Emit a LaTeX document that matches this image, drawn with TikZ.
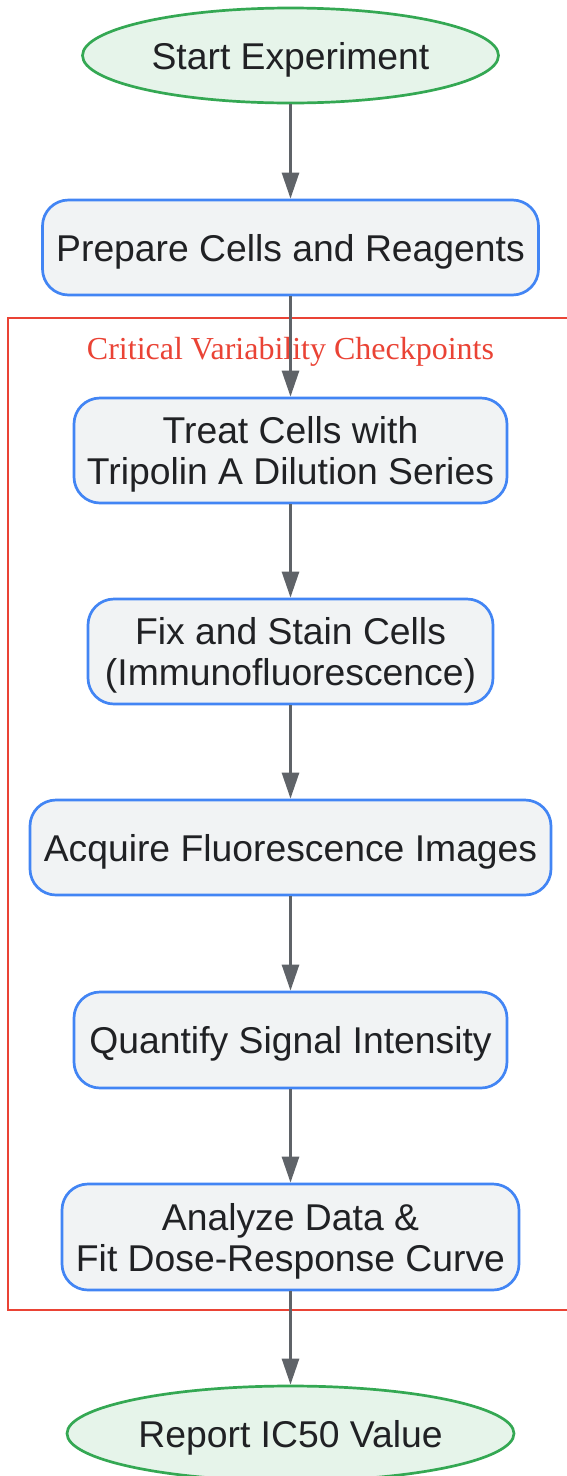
\documentclass[tikz,border=0pt]{standalone}
\usepackage{fontspec}
\setmainfont{Liberation Sans}
\newfontfamily\labelserif{Liberation Serif}
\usetikzlibrary{shapes.geometric,arrows.meta}
\definecolor{boxfill}{HTML}{F1F3F4}
\definecolor{boxline}{HTML}{4285F4}
\definecolor{endfill}{HTML}{E6F4EA}
\definecolor{endline}{HTML}{34A853}
\definecolor{arrowgray}{HTML}{5F6368}
\definecolor{txt}{HTML}{202124}
\definecolor{clusterred}{HTML}{EA4335}
\tikzset{
  stepbox/.style={draw=boxline, fill=boxfill, line width=2.7pt, rounded corners=26pt,
    inner sep=0pt, align=center, text=txt, text depth=-3pt, font=\fontsize{37.3}{41}\selectfont},
  endpoint/.style={ellipse, draw=endline, fill=endfill, line width=2.7pt, inner sep=0pt,
    text=txt, text depth=-2pt, font=\fontsize{37.3}{41}\selectfont},
  flow/.style={draw=arrowgray, line width=2.7pt, -{Triangle[length=26pt,width=17pt]}}
}
\begin{document}
\begin{tikzpicture}[x=1pt,y=-1pt]
\useasboundingbox (0,0) rectangle (567,1476);
\begin{scope}
\clip (0,0) rectangle (567,1476);
\fill[white] (0,0) rectangle (567,1476);
% cluster
\draw[clusterred, line width=2.6pt] (8,318) rectangle (600,1310);
\node[text=clusterred, font=\labelserif\fontsize{32}{38}\selectfont] (clabel) at (290.5,352) {Critical Variability Checkpoints};
% nodes
\node[endpoint, minimum width=416pt, minimum height=95pt] (start) at (290.5,55.5) {Start Experiment};
\node[stepbox, minimum width=496pt, minimum height=95pt] (prep) at (290.5,247.5) {Prepare Cells and Reagents};
\node[stepbox, minimum width=433pt, minimum height=105pt] (treat) at (290.5,450.5) {Treat Cells with\\Tripolin A Dilution Series};
\node[stepbox, minimum width=405pt, minimum height=105pt] (fix) at (290.5,651.5) {Fix and Stain Cells\\(Immunofluorescence)};
\node[stepbox, minimum width=521pt, minimum height=95pt] (acq) at (290.5,847.5) {Acquire Fluorescence Images};
\node[stepbox, minimum width=433pt, minimum height=96pt] (quant) at (290.5,1040) {Quantify Signal Intensity};
\node[stepbox, minimum width=457pt, minimum height=106pt] (anal) at (290.5,1237) {Analyze Data \&\\Fit Dose-Response Curve};
\node[endpoint, minimum width=447pt, minimum height=95pt] (rep) at (290.5,1433.5) {Report IC50 Value};
% connectors
\draw[flow] (start) -- (prep);
\draw[flow] (prep) -- (treat);
\draw[flow] (treat) -- (fix);
\draw[flow] (fix) -- (acq);
\draw[flow] (acq) -- (quant);
\draw[flow] (quant) -- (anal);
\draw[flow] (anal) -- (rep);
\end{scope}
\end{tikzpicture}
\end{document}
